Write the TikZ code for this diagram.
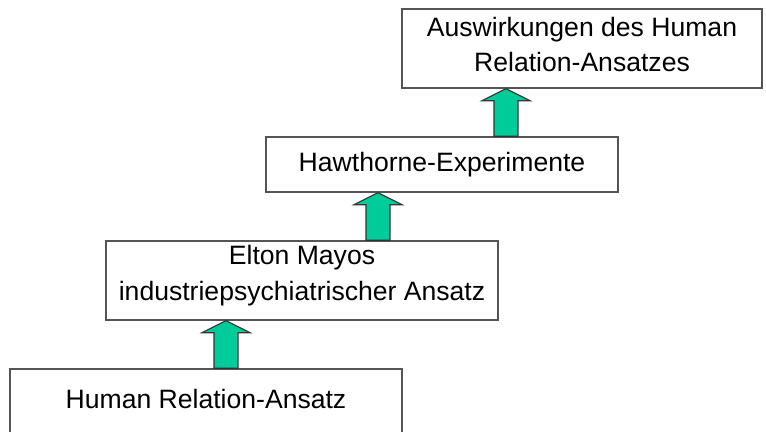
\documentclass[tikz,border=0pt]{standalone}
\usepackage{fontspec}
\setmainfont{Liberation Sans}
\usetikzlibrary{calc}
\definecolor{pfeilgruen}{RGB}{0,204,153}
\definecolor{rahmen}{RGB}{85,85,85}
\tikzset{
  kasten/.style={draw=rahmen,line width=1pt,fill=white,align=center,inner sep=0pt},
  hochpfeil/.style={draw=black!80,line width=0.8pt,fill=pfeilgruen,line join=miter,
    to path={let \p1=(\tikztostart), \p2=(\tikztotarget) in
      (\x1-0.3cm,\y1) -- (\x1-0.3cm,\y2-0.3cm) -- (\x1-0.6cm,\y2-0.3cm) -- (\x2,\y2)
      -- (\x1+0.6cm,\y2-0.3cm) -- (\x1+0.3cm,\y2-0.3cm) -- (\x1+0.3cm,\y1) -- cycle}}
}
\begin{document}
\begin{tikzpicture}[x=0.025cm,y=-0.025cm,font=\fontsize{18.9}{25}\selectfont]
\useasboundingbox (0,0) rectangle (766,432);
\node[kasten,minimum width=9.8cm,minimum height=1.8cm,text depth=0.32cm] (human) at (206,405) {Human Relation-Ansatz};
\node[kasten,minimum width=9.8cm,minimum height=1.975cm,text depth=0.38cm] (elton) at (302,280.5) {Elton Mayos\\industriepsychiatrischer Ansatz};
\node[kasten,minimum width=8.8cm,minimum height=1.375cm] (hawthorne) at (442,164.5) {Hawthorne-Experimente};
\node[kasten,minimum width=9cm,minimum height=1.975cm,text depth=0.22cm] (auswirkung) at (582,48.5) {Auswirkungen des Human\\Relation-Ansatzes};
\coordinate (p1) at (226,0);
\coordinate (p2) at (378,0);
\coordinate (p3) at (506,0);
\draw[hochpfeil] (p1 |- human.north) to (p1 |- elton.south);
\draw[hochpfeil] (p2 |- elton.north) to (p2 |- hawthorne.south);
\draw[hochpfeil] (p3 |- hawthorne.north) to (p3 |- auswirkung.south);
\end{tikzpicture}
\end{document}
